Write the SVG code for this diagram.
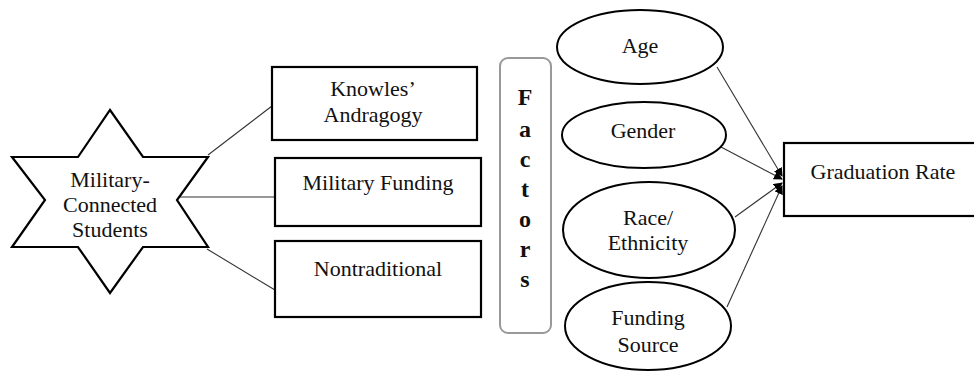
<svg xmlns="http://www.w3.org/2000/svg" width="974" height="371" viewBox="0 0 974 371">
<defs>
<style>
text{font-family:'Liberation Serif','Times New Roman',serif}
.t{font-size:22px;fill:#111;text-anchor:middle}
.f{font-size:24px;font-weight:bold;fill:#111;text-anchor:middle}
.box{fill:#fff;stroke:#000;stroke-width:2.2}
.el{fill:#fff;stroke:#000;stroke-width:2}
.ln{stroke:#333;stroke-width:1.1;fill:none}
</style>
<marker id="ah" markerWidth="9" markerHeight="9" refX="8" refY="4.5" orient="auto" markerUnits="userSpaceOnUse">
<path d="M0,0 L9,4.5 L0,9 Z" fill="#000"/>
</marker>
</defs>
<rect width="974" height="371" fill="#fff"/>
<g id="connectors">
<line class="ln" x1="208" y1="155" x2="272" y2="106"/>
<line class="ln" x1="177" y1="197" x2="275" y2="197"/>
<line class="ln" x1="207" y1="249" x2="275" y2="290"/>
<line class="ln" x1="717" y1="67" x2="782" y2="176" marker-end="url(#ah)"/>
<line class="ln" x1="721" y1="147" x2="782" y2="179" marker-end="url(#ah)"/>
<line class="ln" x1="735" y1="217" x2="782" y2="183" marker-end="url(#ah)"/>
<line class="ln" x1="727" y1="307" x2="782" y2="186" marker-end="url(#ah)"/>
</g>
<g id="students">
<path class="box" d="M110,110 L143,157 L208,157 L177,200 L208,247 L143,247 L110,293 L78,247 L12,247 L45,200 L12,157 L78,157 Z"/>
<text class="t" x="110" y="187">Military-</text>
<text class="t" x="110" y="212">Connected</text>
<text class="t" x="110" y="237">Students</text>
</g>
<g id="knowles">
<rect class="box" x="272" y="67" width="205" height="73"/>
<text class="t" x="373" y="96">Knowles’</text>
<text class="t" x="373" y="122">Andragogy</text>
</g>
<g id="funding">
<rect class="box" x="275" y="158" width="206" height="68"/>
<text class="t" x="378" y="190">Military Funding</text>
</g>
<g id="nontraditional">
<rect class="box" x="275" y="241" width="206" height="76"/>
<text class="t" x="378" y="276">Nontraditional</text>
</g>
<g id="factors">
<rect x="500" y="58" width="51" height="275" rx="8" fill="#fff" stroke="#999" stroke-width="2"/>
<text class="f" x="525" y="105">F</text>
<text class="f" x="525" y="137">a</text>
<text class="f" x="525" y="167">c</text>
<text class="f" x="525" y="197">t</text>
<text class="f" x="525" y="227">o</text>
<text class="f" x="525" y="257">r</text>
<text class="f" x="525" y="287">s</text>
</g>
<g id="age">
<ellipse class="el" cx="640" cy="47" rx="83" ry="37"/>
<text class="t" x="640" y="53">Age</text>
</g>
<g id="gender">
<ellipse class="el" cx="644" cy="135" rx="82" ry="33"/>
<text class="t" x="643" y="138">Gender</text>
</g>
<g id="race">
<ellipse class="el" cx="649" cy="230" rx="86" ry="48"/>
<text class="t" x="648" y="225">Race/</text>
<text class="t" x="648" y="250">Ethnicity</text>
</g>
<g id="fundingsource">
<ellipse class="el" cx="648" cy="326" rx="83" ry="44"/>
<text class="t" x="648" y="325">Funding</text>
<text class="t" x="648" y="352">Source</text>
</g>
<g id="graduation">
<rect class="box" x="784" y="143" width="200" height="73"/>
<text class="t" x="883" y="179">Graduation Rate</text>
</g>
</svg>
